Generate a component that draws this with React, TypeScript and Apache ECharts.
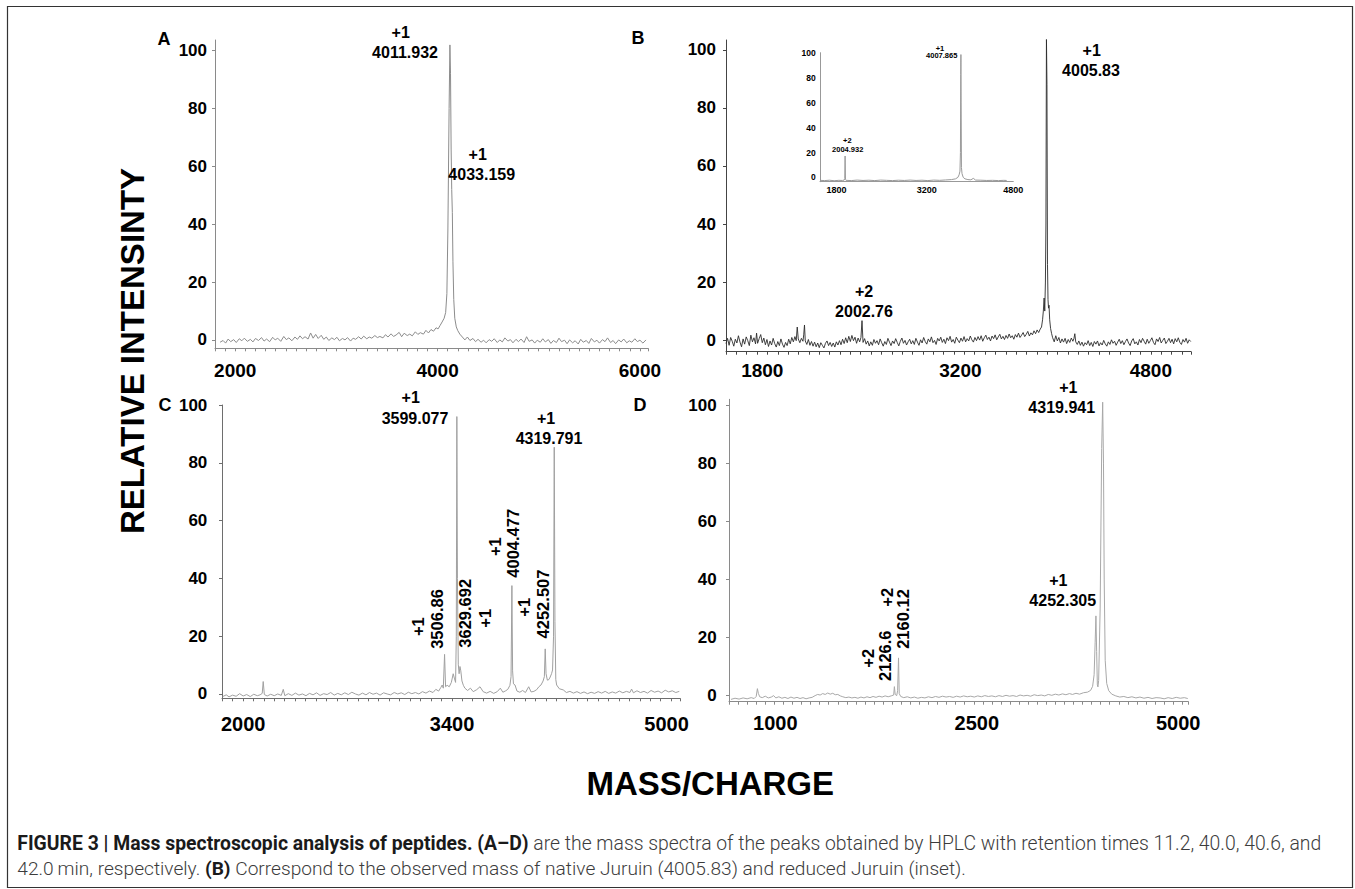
import React, { useEffect, useRef } from "react";
import * as echarts from "echarts";

// ---------------- data ----------------
const yTickValues = [0, 20, 40, 60, 80, 100];

// where each printed tick label sits on the panel's m/z scale, and its text
const xTicksA = [2000, 4000, 6000];
const xLabelsA = ["2000", "4000", "6000"];
const xTicksB = [1800, 3330, 4800];
const xLabelsB = ["1800", "3200", "4800"];
const xTicksInset = [1800, 3330, 4800];
const xLabelsInset = ["1800", "3200", "4800"];
const xTicksC = [2000, 3480, 5000];
const xLabelsC = ["2000", "3400", "5000"];
const xTicksD = [1000, 3000, 5000];
const xLabelsD = ["1000", "2500", "5000"];

// spectrum A : [m/z, relative intensity]
const spectrumA: [number, number][] = [
  [1850,-0.8],[1880,-0.2],[1905,-1.1],[1930,0.3],[1955,-0.6],[1985,0.1],[2010,-0.9],[2040,0.4],[2065,-0.3],[2090,0.6],
  [2120,-0.5],[2150,0.2],[2175,-0.7],[2200,0.5],[2230,-0.2],[2260,0.8],[2285,-0.4],[2310,0.3],[2340,-0.6],[2370,0.9],
  [2395,0.0],[2420,0.6],[2450,-0.5],[2480,1.2],[2505,0.1],[2530,0.7],[2560,-0.3],[2590,1.0],[2615,0.2],[2640,1.4],
  [2665,0.4],[2690,1.1],[2720,0.3],[2745,2.4],[2770,0.6],[2795,1.9],[2820,0.5],[2850,1.6],[2875,0.2],[2900,1.0],
  [2925,-0.2],[2955,0.7],[2980,0.1],[3005,0.9],[3030,-0.3],[3060,0.5],[3085,0.0],[3110,0.8],[3140,-0.4],[3165,0.6],
  [3190,0.2],[3220,1.1],[3245,0.3],[3270,1.3],[3300,0.4],[3325,1.0],[3350,0.6],[3380,1.5],[3405,0.8],[3430,1.2],
  [3460,0.7],[3485,1.8],[3510,1.0],[3540,2.1],[3565,1.2],[3590,1.7],[3620,2.6],[3645,1.1],[3670,2.3],[3700,1.5],
  [3725,2.0],[3750,1.4],[3780,2.8],[3805,1.9],[3830,2.5],[3860,2.0],[3885,3.3],[3910,2.4],[3935,3.6],[3960,3.0],
  [3985,4.2],[4005,3.8],[4025,5.0],[4045,6.2],[4065,7.5],[4080,9.5],[4092,16],[4102,38],[4114,80],[4122,102],
  [4128,92],[4134,66],[4140,52],[4146,44],[4152,27],[4160,14],[4170,7.5],[4185,4.5],[4200,3.2],[4220,2.0],
  [4245,1.0],[4270,0.0],[4295,1.0],[4320,-0.2],[4350,0.5],[4375,-0.6],[4400,0.2],[4430,-0.8],[4455,-0.1],[4480,-1.0],
  [4510,0.1],[4535,-0.5],[4560,0.4],[4590,-0.9],[4615,0.0],[4640,-0.7],[4665,0.7],[4695,-0.4],[4720,0.1],[4745,-1.0],
  [4775,0.2],[4800,-0.6],[4825,0.3],[4855,-0.9],[4880,1.1],[4905,-0.5],[4935,0.0],[4960,-1.1],[4985,-0.1],[5015,-0.8],
  [5040,0.4],[5065,-0.7],[5095,0.1],[5120,-1.2],[5145,-0.2],[5175,-0.9],[5200,0.6],[5225,-0.6],[5255,-0.1],[5280,-1.3],
  [5305,0.0],[5335,-1.0],[5360,-0.3],[5390,-1.4],[5415,0.2],[5440,-0.8],[5470,-0.2],[5495,-1.2],[5520,0.5],[5550,-0.7],
  [5575,-0.1],[5600,-1.1],[5630,0.1],[5655,-0.6],[5680,0.7],[5710,-0.9],[5735,-0.2],[5760,-1.3],[5790,0.0],[5815,-0.7],
  [5840,0.3],[5870,-1.0],[5895,-0.3],[5920,-0.8],[5950,0.4],[5975,-0.6],[6000,-0.1],[6030,-1.1],[6060,0.0]
];

// spectrum B (main, native peptide)
const spectrumB: [number, number][] = [
  [1520,-1.2],[1532,0.6],[1544,-1.8],[1556,0.9],[1568,-0.4],[1580,-2.1],[1592,0.3],[1604,-1.0],[1616,1.5],[1628,-0.7],
  [1640,-2.3],[1652,0.4],[1664,-1.4],[1676,1.1],[1688,-0.2],[1700,-1.9],[1712,1.7],[1724,-0.6],[1736,0.8],[1748,-1.3],
  [1756,2.4],[1764,-1.1],[1776,0.5],[1788,1.9],[1800,-0.9],[1812,0.7],[1824,-1.6],[1836,0.2],[1848,-2.2],[1860,-0.3],
  [1872,-1.7],[1884,0.6],[1896,-1.2],[1908,-2.4],[1920,-0.5],[1932,-1.9],[1944,0.4],[1956,-1.4],[1968,-2.5],[1980,-0.8],
  [1992,-1.9],[2004,0.3],[2016,-1.3],[2028,0.9],[2040,-0.6],[2052,1.2],[2062,-0.2],[2070,4.5],[2078,0.4],[2090,-0.9],
  [2102,0.6],[2114,-0.4],[2120,1.8],[2126,5.2],[2132,-0.3],[2144,-1.5],[2156,0.2],[2168,-1.8],[2180,-0.5],[2192,-2.1],
  [2204,-0.7],[2216,-2.3],[2228,-1.0],[2240,-2.6],[2252,-0.9],[2264,-1.8],[2276,-2.7],[2288,-1.1],[2300,-0.3],[2312,-1.9],
  [2324,-0.8],[2336,-2.2],[2348,-1.0],[2360,-2.4],[2372,-0.6],[2384,-1.7],[2396,-0.2],[2408,-1.6],[2420,0.3],[2432,-1.2],
  [2444,0.8],[2456,-0.9],[2468,1.3],[2480,-0.5],[2492,1.6],[2504,-0.2],[2516,1.0],[2528,-1.1],[2540,0.7],[2552,-0.6],
  [2562,0.9],[2570,6.7],[2578,-0.8],[2590,0.5],[2602,-1.4],[2614,-0.3],[2626,-2.0],[2638,-0.6],[2650,-1.8],[2662,0.2],
  [2674,-1.1],[2686,-0.2],[2698,-1.6],[2710,0.4],[2722,-0.9],[2734,-2.1],[2746,-0.5],[2758,-1.5],[2770,0.6],[2782,-0.7],
  [2794,-1.9],[2806,-0.3],[2818,-1.2],[2830,0.5],[2842,-0.8],[2854,-2.0],[2866,-0.4],[2878,0.7],[2890,-1.1],[2902,-0.1],
  [2914,-1.7],[2926,-0.6],[2938,0.3],[2950,-1.3],[2962,-0.2],[2974,-1.5],[2986,0.6],[2998,-0.7],[3010,-1.8],[3022,0.1],
  [3034,-1.0],[3046,0.9],[3058,-0.5],[3070,-1.4],[3082,0.4],[3094,-0.6],[3106,1.1],[3118,-0.9],[3130,-0.1],[3142,-1.5],
  [3154,0.6],[3166,-0.3],[3178,1.0],[3190,-0.8],[3202,0.3],[3214,-1.2],[3226,0.8],[3238,-0.2],[3250,1.3],[3262,-0.7],
  [3274,0.2],[3286,-1.1],[3298,1.0],[3310,0.0],[3322,-0.9],[3334,0.7],[3346,-0.4],[3358,1.2],[3370,-0.6],[3382,0.5],
  [3394,-0.3],[3406,1.4],[3418,0.1],[3430,-0.7],[3442,0.9],[3454,-0.2],[3466,1.2],[3478,0.0],[3490,1.5],[3502,-0.4],
  [3514,0.8],[3526,1.7],[3538,0.2],[3550,1.0],[3562,-0.3],[3574,1.4],[3586,0.5],[3598,1.8],[3610,0.1],[3622,1.1],
  [3634,2.0],[3646,0.4],[3658,1.3],[3670,0.2],[3682,1.6],[3694,0.6],[3706,2.1],[3718,0.8],[3730,1.5],[3742,0.3],
  [3754,1.9],[3766,1.0],[3778,2.4],[3790,0.9],[3802,1.7],[3814,2.6],[3826,1.2],[3838,2.0],[3850,3.0],[3862,1.4],
  [3874,2.5],[3886,1.8],[3898,3.2],[3910,2.2],[3922,3.5],[3934,2.6],[3946,3.8],[3956,4.5],[3964,7],[3970,10],
  [3976,14.5],[3981,10],[3986,20],[3990,40],[3994,104],[3998,88],[4002,26],[4006,14],[4010,11],[4014,12],
  [4019,7],[4026,4.0],[4034,2.2],[4042,0.8],[4054,-0.6],[4066,1.5],[4078,-0.3],[4090,0.9],[4102,-1.0],[4114,0.4],
  [4126,-0.7],[4138,0.6],[4150,-1.2],[4162,0.2],[4174,-0.8],[4186,0.7],[4198,-0.4],[4206,0.5],[4213,2.2],[4220,-0.6],
  [4232,-1.5],[4244,-0.3],[4256,-1.8],[4268,-0.7],[4280,-2.1],[4292,-0.9],[4304,-1.6],[4316,-0.2],[4328,-1.9],[4340,-0.8],
  [4352,-2.2],[4364,-0.5],[4376,-1.4],[4388,-0.3],[4400,-2.0],[4412,-0.9],[4424,-1.7],[4436,-0.1],[4448,-1.3],[4460,-2.1],
  [4472,-0.6],[4484,-1.5],[4496,0.1],[4508,-1.1],[4520,-0.4],[4532,-1.8],[4544,-0.7],[4556,0.3],[4568,-1.2],[4580,-0.2],
  [4592,-1.6],[4604,-0.5],[4616,0.4],[4628,-1.0],[4640,-1.9],[4652,-0.3],[4664,0.5],[4676,-1.3],[4688,-0.6],[4700,-1.7],
  [4712,0.2],[4724,-0.9],[4736,0.6],[4748,-0.4],[4760,-1.4],[4772,0.3],[4784,-1.1],[4796,-0.2],[4808,0.8],[4820,-0.8],
  [4832,-1.6],[4844,0.4],[4856,-0.5],[4868,0.9],[4880,-1.0],[4892,-0.1],[4904,0.7],[4916,-1.2],[4928,-0.4],[4940,0.6],
  [4952,-0.9],[4964,0.3],[4976,-1.3],[4988,0.5],[5000,-0.6],[5012,0.8],[5024,-0.8],[5036,-1.5],[5048,0.2],[5060,-0.7],
  [5072,0.6],[5084,-1.1],[5096,0.1],[5108,-0.5]
];

// inset of B (reduced peptide)
const spectrumInset: [number, number][] = [
  [1520,-2.4],[1600,-2.6],[1680,-2.3],[1760,-2.7],[1840,-2.4],[1900,-2.5],[1930,-2.2],[1940,-1.0],[1946,17.2],[1952,-1.5],
  [1962,-2.4],[2050,-2.6],[2150,-2.2],[2250,-2.5],[2350,-2.3],[2450,-2.6],[2550,-2.2],[2650,-2.4],[2750,-2.6],[2850,-2.3],
  [2950,-2.5],[3050,-2.2],[3150,-2.5],[3250,-2.3],[3350,-2.6],[3450,-2.2],[3550,-2.4],[3650,-2.1],[3750,-1.8],[3820,-1.2],
  [3860,0.0],[3880,2.0],[3895,5.0],[3903,20],[3908,83],[3911,99],[3915,60],[3920,8],[3930,3],[3950,0],
  [3980,-1.2],[4030,-1.8],[4080,-2.0],[4122,-0.8],[4160,-2.2],[4250,-2.3],[4350,-2.5],[4450,-2.4],[4550,-2.6],[4640,-2.4],
  [4688,-2.5]
];

// spectrum C
const spectrumC: [number, number][] = [
  [1855,-0.9],[1880,-0.3],[1900,-1.0],[1925,-0.4],[1950,-0.8],[1975,0.1],[2000,-0.7],[2025,-0.2],[2050,-0.9],[2075,-0.1],
  [2100,-0.6],[2120,-0.3],[2135,0.2],[2142,4.3],[2150,-0.2],[2170,-0.7],[2195,-0.1],[2220,-0.6],[2245,0.0],[2270,-0.5],
  [2284,1.6],[2295,-0.6],[2320,0.1],[2345,-0.5],[2370,0.3],[2395,-0.4],[2420,0.0],[2445,-0.6],[2470,0.2],[2495,-0.3],
  [2520,0.4],[2545,-0.5],[2570,0.1],[2595,-0.2],[2620,0.5],[2645,-0.4],[2670,0.2],[2695,-0.3],[2720,0.4],[2745,-0.2],
  [2770,0.6],[2795,0.0],[2820,-0.4],[2845,0.3],[2870,-0.3],[2895,0.5],[2920,-0.1],[2945,0.3],[2970,-0.4],[2995,0.4],
  [3020,0.0],[3045,-0.3],[3070,0.5],[3095,0.0],[3120,0.4],[3145,-0.2],[3170,0.6],[3195,0.1],[3220,0.5],[3245,0.0],
  [3270,0.8],[3295,0.3],[3320,1.0],[3345,0.5],[3365,1.6],[3385,1.0],[3400,2.2],[3410,3.1],[3418,2.0],[3427,13.7],
  [3434,2.5],[3445,3.0],[3460,2.5],[3475,4.0],[3488,7.0],[3496,5.5],[3505,4.0],[3510,20],[3514,96],[3518,40],
  [3524,10.3],[3530,7.0],[3536,9.5],[3542,8.0],[3550,4.5],[3560,3.0],[3571,2.0],[3590,1.2],[3610,2.0],[3630,0.8],
  [3655,1.5],[3678,2.5],[3700,0.8],[3725,0.3],[3750,0.9],[3775,0.2],[3800,0.8],[3822,2.0],[3840,0.6],[3860,1.1],
  [3875,1.6],[3890,3.0],[3898,6],[3904,37.5],[3909,8],[3915,3.5],[3926,3.1],[3940,1.0],[3960,0.6],[3980,1.2],
  [4000,0.5],[4023,2.5],[4040,0.7],[4060,0.9],[4080,1.5],[4095,2.5],[4110,3.1],[4125,4.5],[4134,6],[4140,15.6],
  [4146,7],[4155,4.8],[4162,4.8],[4172,5.5],[4185,7],[4192,8.3],[4199,20],[4204,85.4],[4209,25],[4215,5],
  [4221,3.1],[4240,1.8],[4268,1.4],[4290,0.5],[4315,0.9],[4340,0.3],[4365,0.8],[4390,0.2],[4415,0.7],[4440,0.1],
  [4465,0.6],[4490,0.2],[4515,0.8],[4540,0.3],[4565,0.9],[4590,0.2],[4615,0.7],[4640,0.3],[4665,1.0],[4690,0.4],
  [4715,0.9],[4740,0.5],[4752,1.7],[4765,0.4],[4790,1.1],[4815,0.5],[4840,0.9],[4865,0.3],[4890,1.2],[4915,0.6],
  [4940,1.0],[4965,0.4],[4990,1.3],[5015,0.7],[5040,1.1],[5065,0.5],[5090,0.9]
];

// spectrum D
const spectrumD: [number, number][] = [
  [560,-1.5],[600,-1.1],[640,-1.4],[680,-1.0],[720,-1.3],[760,-0.9],[790,-1.2],[810,-0.5],[822,2.2],[832,0.5],
  [845,-0.6],[870,-0.9],[900,-0.4],[930,-1.0],[960,-0.7],[983,-0.2],[1005,-1.0],[1035,-0.6],[1065,-1.1],[1095,-0.8],
  [1125,-1.2],[1155,-0.7],[1185,-1.1],[1215,-0.8],[1245,-1.2],[1275,-0.9],[1305,-1.3],[1335,-1.0],[1365,-0.8],[1395,-0.2],
  [1420,0.2],[1445,0.0],[1470,0.5],[1495,0.2],[1520,0.7],[1545,0.3],[1570,0.6],[1595,0.1],[1620,0.2],[1645,-0.3],
  [1670,-0.6],[1700,-0.9],[1730,-0.7],[1760,-1.0],[1790,-0.8],[1820,-1.1],[1850,-0.7],[1880,-1.0],[1910,-0.6],[1940,-0.9],
  [1970,-0.5],[2000,-0.8],[2030,-0.4],[2060,-0.7],[2090,-0.3],[2120,-0.6],[2150,-0.3],[2175,0.0],[2182,2.9],[2190,0.2],
  [2205,-0.2],[2214,1.5],[2223,12.8],[2230,0.5],[2245,-0.5],[2275,-0.9],[2310,-0.6],[2345,-1.0],[2380,-0.7],[2415,-1.1],
  [2450,-0.8],[2485,-1.0],[2520,-0.6],[2555,-0.9],[2590,-0.5],[2625,-0.8],[2660,-0.4],[2695,-0.7],[2730,-0.5],[2765,-0.8],
  [2800,-0.4],[2835,-0.7],[2870,-0.3],[2905,-0.6],[2940,-0.4],[2975,-0.7],[3010,-0.3],[3045,-0.6],[3080,-0.2],[3115,-0.5],
  [3150,-0.3],[3185,-0.6],[3220,-0.2],[3255,-0.5],[3290,-0.1],[3325,-0.4],[3360,-0.2],[3395,-0.5],[3430,0.0],[3465,-0.3],
  [3500,-0.1],[3535,-0.4],[3570,0.1],[3605,-0.2],[3640,0.0],[3675,-0.3],[3710,0.2],[3745,-0.1],[3780,0.3],[3815,0.0],
  [3850,0.4],[3885,0.1],[3920,0.5],[3950,0.2],[3985,0.6],[4020,0.3],[4060,0.8],[4100,1.0],[4130,1.6],[4150,3.0],
  [4165,7],[4175,18],[4183,27.3],[4190,15],[4197,3.5],[4203,2.8],[4210,5],[4225,30],[4240,85],[4250,101],
  [4258,80],[4265,40],[4275,12],[4290,4],[4310,1.5],[4340,0.3],[4380,-0.3],[4420,-0.7],[4460,-0.5],[4500,-0.9],
  [4540,-0.6],[4580,-1.0],[4620,-0.7],[4660,-1.1],[4700,-0.8],[4740,-1.2],[4780,-0.9],[4820,-1.0],[4860,-1.3],[4900,-0.9],
  [4940,-1.2],[4980,-0.8],[5020,-1.1],[5060,-0.9],[5095,-1.2]
];

// peak annotations (charge state, m/z text)
const notesA = ["+1", "4011.932", "+1", "4033.159"];
const notesB = ["+1", "4005.83", "+2", "2002.76"];
const notesInset = ["+1", "4007.865", "+2", "2004.932"];
const notesC = ["+1", "3599.077", "+1", "4319.791"];
const notesCVertical = ["+1", "3506.86", "3629.692", "+1", "+1", "4004.477", "+1", "4252.507"];
const notesD = ["+1", "4319.941", "+1", "4252.305"];
const notesDVertical = ["+2", "2126.6", "+2", "2160.12"];
const panelLetters = ["A", "B", "C", "D"];
const yTitle = "RELATIVE INTENSINTY";
const xTitle = "MASS/CHARGE";
const captionLine1: [string, string][] = [
  ["b", "FIGURE 3 | Mass spectroscopic analysis of peptides."],
  ["n", " "],
  ["b", "(A\u2013D)"],
  ["n", " are the mass spectra of the peaks obtained by HPLC with retention times 11.2, 40.0, 40.6, and"],
];
const captionLine2: [string, string][] = [
  ["n", "42.0\u2009min, respectively. "],
  ["b", "(B)"],
  ["n", " Correspond to the observed mass of native Juruin (4005.83) and reduced Juruin (inset)."],
];

// ---------------- layout ----------------
const FONT = "'Liberation Sans', Arial, Helvetica, sans-serif";
const CAP_FONT = "Roboto, 'Liberation Sans', sans-serif";

function xAxisDef(gridIndex: number, min: number, max: number, interval: number, ticks: number[], labels: string[],
  color: string, fontSize: number, margin: number, showTicks = true) {
  return {
    type: "value", gridIndex, min, max, interval,
    axisLine: { show: true, onZero: false, lineStyle: { color, width: 1 } },
    axisTick: { show: showTicks, length: 3, lineStyle: { color, width: 1 } },
    splitLine: { show: false },
    axisLabel: {
      customValues: ticks,
      formatter: (v: number) => { const i = ticks.indexOf(v); return i >= 0 ? labels[i] : ""; },
      fontSize, fontWeight: "bold", color: "#000", margin, fontFamily: FONT,
    },
  };
}

function yAxisDef(gridIndex: number, min: number, max: number, color: string, fontSize: number, margin: number, tickLen = 3) {
  return {
    type: "value", gridIndex, min, max,
    axisLine: { show: true, onZero: false, lineStyle: { color, width: 1 } },
    axisTick: { show: tickLen > 0, length: tickLen, customValues: yTickValues, lineStyle: { color, width: 1 } },
    splitLine: { show: false },
    axisLabel: {
      customValues: yTickValues, formatter: (v: number) => String(v),
      fontSize, fontWeight: "bold", color: "#000", margin, fontFamily: FONT,
    },
  };
}

function lineSeries(i: number, data: [number, number][], color: string, width = 1) {
  return {
    type: "line", xAxisIndex: i, yAxisIndex: i, data, showSymbol: false, symbol: "none",
    lineStyle: { color, width }, itemStyle: { color }, silent: true, clip: true, z: 3,
  };
}

function txt(text: string, x: number, y: number, fontSize: number, vertical = false, extra: any = {}) {
  return {
    type: "text", x, y, rotation: vertical ? Math.PI / 2 : 0, silent: true, z: 10,
    style: { text, fontSize, fontWeight: "bold", fontFamily: FONT, fill: "#000", align: "center", verticalAlign: "middle", ...extra },
  };
}

function measureSegs(segs: [string, string][], size: number) {
  const ctx = document.createElement("canvas").getContext("2d");
  if (!ctx) return 1;
  let w = 0;
  for (const [k, t] of segs) {
    ctx.font = `${k === "b" ? "bold" : "300"} ${size}px ${CAP_FONT}`;
    w += ctx.measureText(t).width;
  }
  return w;
}

function captionText(segs: [string, string][], x: number, y: number, targetWidth: number) {
  const base = 16;
  const fs = (base * targetWidth) / measureSegs(segs, base);
  return {
    type: "text", x, y, silent: true, z: 10,
    style: {
      text: segs.map(([k, t]) => `{${k}|${t}}`).join(""),
      fontSize: fs, fontFamily: CAP_FONT, align: "left", verticalAlign: "middle",
      rich: {
        b: { fontWeight: "bold", fontSize: fs, fontFamily: CAP_FONT, fill: "#1a1a1a" },
        n: { fontWeight: 300, fontSize: fs, fontFamily: CAP_FONT, fill: "#3c3c3c" },
      },
    },
  };
}

export default function App() {
  const ref = useRef<HTMLDivElement>(null);
  useEffect(() => {
    if (!ref.current) return;
    const chart = echarts.init(ref.current, null, { renderer: "svg" });

    const posA = [[400.7, 32.3], [405, 52.3], [477.7, 154], [481.7, 174]];
    const posB = [[1091.7, 50], [1091, 70], [864, 291.7], [864, 311.7]];
    const posInset = [[940, 48.8], [941.7, 55.5], [847.3, 140.7], [847.7, 149.3]];
    const posC = [[410.7, 397.7], [415, 418.3], [546, 418.3], [549, 438.3]];
    const posCV = [[418.3, 626.7], [437.3, 619], [465, 613.3], [485, 618.3], [495, 546.7], [513.3, 543.3], [524, 607.3], [543.3, 604]];
    const posD = [[1068.3, 387.3], [1061.7, 407.7], [1058.3, 580.7], [1062.7, 600.7]];
    const posDV = [[868.3, 658.3], [885, 655.7], [886.7, 597.3], [903.3, 619]];
    const posLetters = [[164, 39.3], [638, 38.3], [165, 405], [640, 405]];

    const graphic: any[] = [
      { type: "rect", shape: { x: 7.5, y: 6.5, width: 1345, height: 881 }, style: { fill: "none", stroke: "#333", lineWidth: 1.2 }, silent: true, z: 1 },
    ];
    panelLetters.forEach((t, i) => graphic.push(txt(t, posLetters[i][0], posLetters[i][1], 18)));
    notesA.forEach((t, i) => graphic.push(txt(t, posA[i][0], posA[i][1], 16)));
    notesB.forEach((t, i) => graphic.push(txt(t, posB[i][0], posB[i][1], 16)));
    notesInset.forEach((t, i) => graphic.push(txt(t, posInset[i][0], posInset[i][1], 7.5)));
    notesC.forEach((t, i) => graphic.push(txt(t, posC[i][0], posC[i][1], 16)));
    notesCVertical.forEach((t, i) => graphic.push(txt(t, posCV[i][0], posCV[i][1], 16.5, true)));
    notesD.forEach((t, i) => graphic.push(txt(t, posD[i][0], posD[i][1], 16)));
    notesDVertical.forEach((t, i) => graphic.push(txt(t, posDV[i][0], posDV[i][1], 16.5, true)));
    graphic.push(txt(yTitle, 132, 351, 33, true));
    graphic.push(txt(xTitle, 710.3, 783.3, 33));
    graphic.push(captionText(captionLine1, 17.3, 843.3, 1305));
    graphic.push(captionText(captionLine2, 17.3, 868.3, 949));

    const option: any = {
      animation: false,
      backgroundColor: "#ffffff",
      textStyle: { fontFamily: FONT },
      grid: [
        { left: 215, top: 40, width: 433, height: 308.3 },
        { left: 726, top: 40, width: 465, height: 311.7 },
        { left: 820, top: 52.7, width: 193.3, height: 129 },
        { left: 222, top: 405, width: 458, height: 293.3 },
        { left: 729, top: 399.3, width: 459.3, height: 302.4 },
      ],
      xAxis: [
        xAxisDef(0, 1800, 6080, 100, xTicksA, xLabelsA, "#8a8a8a", 19, 13),
        xAxisDef(1, 1520, 5110, 80, xTicksB, xLabelsB, "#444", 19, 9.5),
        xAxisDef(2, 1520, 4800, 80, xTicksInset, xLabelsInset, "#999", 9, 3.3, false),
        xAxisDef(3, 1850, 5095, 74, xTicksC, xLabelsC, "#6e6e6e", 20, 15.7),
        xAxisDef(4, 540, 5100, 90, xTicksD, xLabelsD, "#8a8a8a", 20, 11.3),
      ],
      yAxis: [
        yAxisDef(0, -2.9, 103.7, "#8a8a8a", 17, 8),
        yAxisDef(1, -4.0, 103.4, "#444", 17, 10),
        yAxisDef(2, -3.5, 100.5, "#999", 8.5, 4.3, 0),
        yAxisDef(3, -1.5, 100, "#6e6e6e", 17, 14.7),
        yAxisDef(4, -2.3, 102, "#8a8a8a", 17, 12.3),
      ],
      series: [
        lineSeries(0, spectrumA, "#8c8c8c"),
        lineSeries(1, spectrumB, "#2b2b2b", 0.9),
        lineSeries(2, spectrumInset, "#9a9a9a"),
        lineSeries(3, spectrumC, "#a0a0a0"),
        lineSeries(4, spectrumD, "#a8a8a8"),
      ],
      graphic,
    };
    chart.setOption(option);
    return () => chart.dispose();
  }, []);
  return (
    <div
      ref={ref}
      style={{ position: "fixed", left: 0, top: 0, width: 1355, height: 889, background: "#fff" }}
    />
  );
}
